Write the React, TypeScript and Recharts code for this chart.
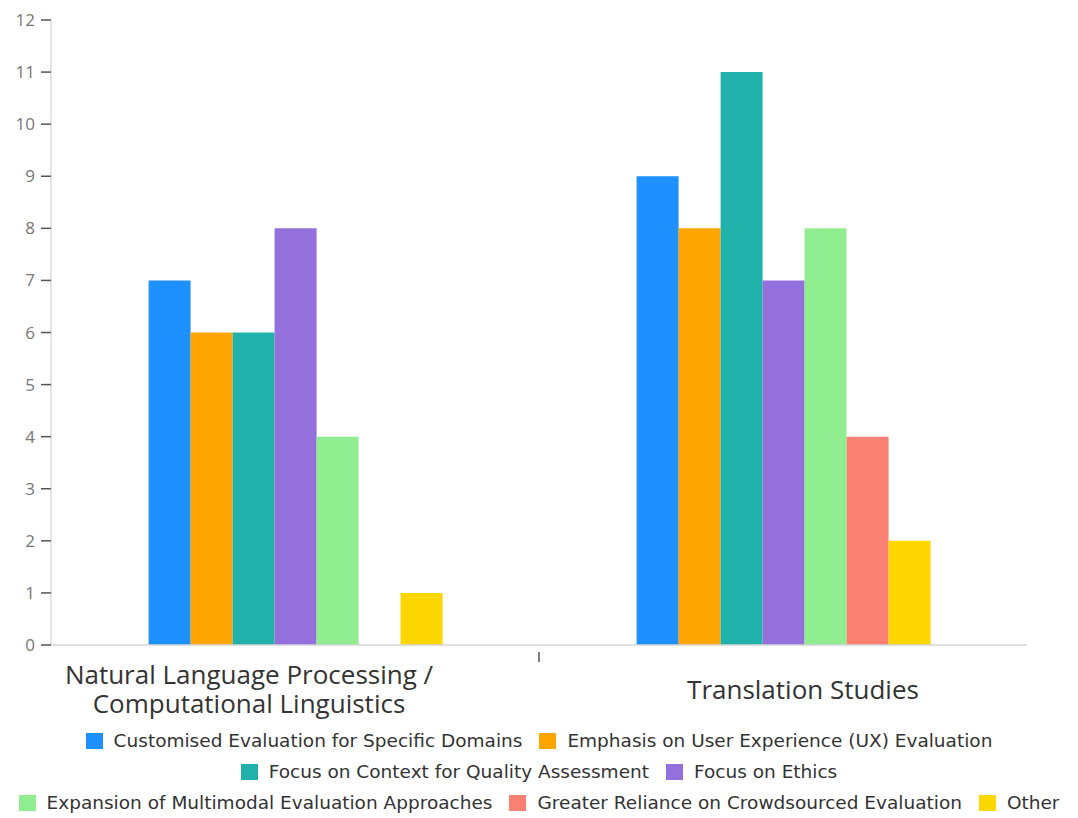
import React from 'react';
import { BarChart, Bar, XAxis, YAxis, Legend } from 'recharts';

// Categories and how their axis labels wrap
const categories = [
  'Natural Language Processing / Computational Linguistics',
  'Translation Studies',
];
const categoryLabelLines = [
  ['Natural Language Processing /', 'Computational Linguistics'],
  ['Translation Studies'],
];

// Response counts per category
const customisedDomains = [7, 9];
const uxEvaluation = [6, 8];
const contextQuality = [6, 11];
const ethics = [8, 7];
const multimodal = [4, 8];
const crowdsourced: (number | null)[] = [null, 4];
const other = [1, 2];

const yTicks = [0, 1, 2, 3, 4, 5, 6, 7, 8, 9, 10, 11, 12];

const SERIES = [
  { key: 'customised', name: 'Customised Evaluation for Specific Domains', color: '#1E90FF', values: customisedDomains },
  { key: 'ux', name: 'Emphasis on User Experience (UX) Evaluation', color: '#FFA500', values: uxEvaluation },
  { key: 'context', name: 'Focus on Context for Quality Assessment', color: '#20B2AA', values: contextQuality },
  { key: 'ethics', name: 'Focus on Ethics', color: '#9370DB', values: ethics },
  { key: 'multimodal', name: 'Expansion of Multimodal Evaluation Approaches', color: '#90EE90', values: multimodal },
  { key: 'crowd', name: 'Greater Reliance on Crowdsourced Evaluation', color: '#FA8072', values: crowdsourced },
  { key: 'other', name: 'Other', color: '#FFD700', values: other },
];

// Legend rows (series keys per line)
const LEGEND_ROWS = [
  ['customised', 'ux'],
  ['context', 'ethics'],
  ['multimodal', 'crowd', 'other'],
];

const data = categories.map((category, i) => {
  const row: Record<string, string | number | null> = { category };
  SERIES.forEach((s) => {
    row[s.key] = s.values[i];
  });
  return row;
});

const FONT = '"Open Sans", "Noto Sans", sans-serif';
const LEGEND_FONT = '"DejaVu Sans", sans-serif';
const CHART_W = 1078;
const CHART_H = 818;
const MARGIN = { top: 20, right: 51, bottom: 0, left: 0 };
const Y_AXIS_W = 51;
const X_AXIS_H = 80;
const LEGEND_H = 93;
const BAND = (CHART_W - MARGIN.left - MARGIN.right - Y_AXIS_W) / categories.length;

// Small horizontal nudges for the category captions
const labelShift = [-46, 20];

const CategoryTick = (props: any) => {
  const { x, y, index } = props;
  const lines = categoryLabelLines[index] || [String(props.payload?.value ?? '')];
  const firstBaseline = lines.length === 2 ? 39 : 54;
  const cx = x + (labelShift[index] || 0);
  return (
    <g>
      {index < categories.length - 1 && (
        <line
          x1={x + BAND / 2}
          x2={x + BAND / 2}
          y1={y + 7}
          y2={y + 17}
          stroke="#555"
          strokeWidth={1.5}
        />
      )}
      <text
        x={cx}
        y={y + firstBaseline}
        textAnchor="middle"
        fontFamily={FONT}
        fontSize={26}
        fill="#333"
      >
        {lines.map((line, i) => (
          <tspan key={i} x={cx} dy={i === 0 ? 0 : 29}>
            {line}
          </tspan>
        ))}
      </text>
    </g>
  );
};

const LegendRows = () => (
  <div style={{ height: LEGEND_H, fontFamily: LEGEND_FONT, fontSize: 18.5, color: '#333' }}>
    {LEGEND_ROWS.map((row, r) => (
      <div
        key={r}
        style={{
          height: 31,
          display: 'flex',
          justifyContent: 'center',
          alignItems: 'center',
          whiteSpace: 'nowrap',
        }}
      >
        {row.map((k, j) => {
          const s = SERIES.find((x) => x.key === k)!;
          return (
            <div
              key={k}
              style={{
                display: 'flex',
                alignItems: 'center',
                marginLeft: j === 0 ? 0 : 17,
              }}
            >
              <span
                style={{
                  display: 'inline-block',
                  width: 17,
                  height: 16,
                  background: s.color,
                  marginRight: 11,
                }}
              />
              <span>{s.name}</span>
            </div>
          );
        })}
      </div>
    ))}
  </div>
);

export default function App() {
  return (
    <div style={{ marginLeft: -8, marginTop: -8, width: CHART_W, height: CHART_H, background: '#fff' }}>
      <BarChart
        width={CHART_W}
        height={CHART_H}
        data={data}
        margin={MARGIN}
        barCategoryGap="20%"
        barGap={0}
      >
        <XAxis
          dataKey="category"
          height={X_AXIS_H}
          axisLine={{ stroke: '#d6d6d6', strokeWidth: 1.5 }}
          tickLine={false}
          tickSize={0}
          tickMargin={0}
          interval={0}
          tick={<CategoryTick />}
        />
        <YAxis
          width={Y_AXIS_W}
          domain={[0, 12]}
          ticks={yTicks}
          interval={0}
          axisLine={{ stroke: '#dcdcdc', strokeWidth: 1.5 }}
          tickLine={{ stroke: '#555', strokeWidth: 1.5 }}
          tickSize={10}
          tickMargin={6}
          tick={{ fontFamily: FONT, fontSize: 17, fill: '#777' }}
        />
        <Legend
          verticalAlign="bottom"
          align="center"
          content={<LegendRows />}
          wrapperStyle={{ width: CHART_W, left: 0 }}
        />
        {SERIES.map((s) => (
          <Bar key={s.key} dataKey={s.key} name={s.name} fill={s.color} isAnimationActive={false} />
        ))}
      </BarChart>
    </div>
  );
}
